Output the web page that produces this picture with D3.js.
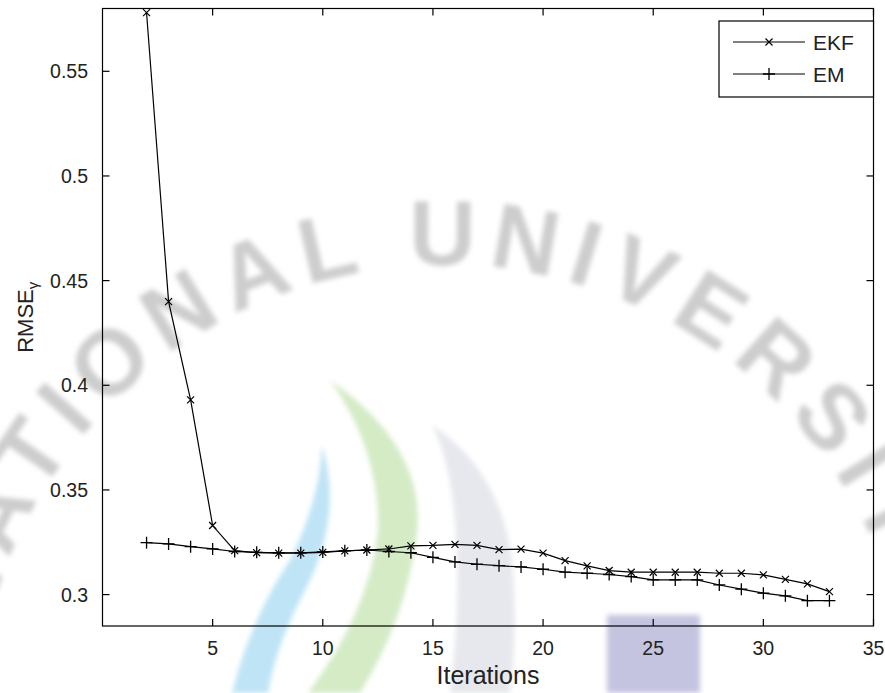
<!DOCTYPE html>
<html>
<head>
<meta charset="utf-8">
<script src="https://cdn.jsdelivr.net/npm/d3@7"></script>
<style>
  body { margin: 0; background: #fff; }
  svg { display: block; }
</style>
</head>
<body>
<svg></svg>
<script>
var width = 885;
var height = 693;

// data
var iterations = [2, 3, 4, 5, 6, 7, 8, 9, 10, 11, 12, 13, 14, 15, 16, 17, 18, 19, 20, 21, 22, 23, 24, 25, 26, 27, 28, 29, 30, 31, 32, 33];
var ekf = [0.578, 0.440, 0.393, 0.333, 0.3210, 0.3200, 0.3198, 0.3198, 0.3202, 0.3209, 0.3213, 0.3218, 0.3233, 0.3235, 0.3240, 0.3235, 0.3215, 0.3217, 0.3198, 0.3162, 0.3137, 0.3115, 0.3107, 0.3107, 0.3107, 0.3107, 0.3102, 0.3102, 0.3094, 0.3073, 0.3051, 0.3014];
var em = [0.3248, 0.3242, 0.3229, 0.3218, 0.3206, 0.3202, 0.3200, 0.3200, 0.3204, 0.3209, 0.3213, 0.3206, 0.3200, 0.3178, 0.3156, 0.3145, 0.3138, 0.3132, 0.3121, 0.3107, 0.3102, 0.3096, 0.3086, 0.3070, 0.3070, 0.3070, 0.3046, 0.3026, 0.3007, 0.2994, 0.2971, 0.2971];
var xTicks = [5, 10, 15, 20, 25, 30, 35];
var yTicks = [0.3, 0.35, 0.4, 0.45, 0.5, 0.55];
var seriesNames = ["EKF", "EM"];

const svg = d3.select('svg')
    .attr('width', width)
    .attr('height', height);

// watermark behind the plot
var defs = svg.append("defs");
defs.append("filter").attr("id", "soft")
    .append("feGaussianBlur").attr("stdDeviation", 2.5);
defs.append("path").attr("id", "arcPath")
    .attr("d", "M -25 735 A 470 470 0 0 1 915 735");

const wm = svg.append("g").attr("filter", "url(#soft)");
wm.append("path")  // blue swoosh
    .attr("d", "M 322 445 Q 345 520 300 600 Q 275 650 268 693 L 232 693 Q 250 620 290 560 Q 320 500 322 445 Z")
    .attr("fill", "#bfe4f6");
wm.append("path")  // green swoosh
    .attr("d", "M 330 380 Q 430 450 416 540 Q 405 620 360 693 L 308 693 Q 370 610 378 530 Q 380 450 330 380 Z")
    .attr("fill", "#d4ebc6");
wm.append("path")  // grey swoosh
    .attr("d", "M 432 425 Q 500 470 512 560 Q 518 630 510 693 L 450 693 Q 462 600 455 520 Q 450 460 432 425 Z")
    .attr("fill", "#e6e8ed");
wm.append("rect")
    .attr("x", 607).attr("y", 615).attr("width", 93).attr("height", 78)
    .attr("fill", "#c4c4e1");
wm.append("text")
    .attr("font-family", "Liberation Sans, Arial, sans-serif")
    .attr("font-weight", "bold")
    .attr("font-size", 92)
    .attr("letter-spacing", 12)
    .attr("fill", "#cdcdcd")
    .append("textPath")
    .attr("href", "#arcPath")
    .attr("startOffset", "50%")
    .attr("text-anchor", "middle")
    .text("NATIONAL UNIVERSITY");

// plot area
var mLeft = 102.5, mRight = 873.5, mTop = 8.5, mBottom = 626;
var x = d3.scaleLinear().domain([0, 35]).range([mLeft, mRight]);
var y = d3.scaleLinear().domain([0.285, 0.58]).range([mBottom, mTop]);

const plot = svg.append("g");
plot.append("rect")
    .attr("x", mLeft).attr("y", mTop)
    .attr("width", mRight - mLeft).attr("height", mBottom - mTop)
    .attr("fill", "none").attr("stroke", "#000").attr("stroke-width", 1.2);

var tickLen = 7;
var fontMain = "Liberation Sans, Arial, sans-serif";

// x ticks, bottom and top, inward
plot.selectAll(".xt").data(xTicks).join("g").attr("class", "xt")
    .each(function(d) {
        var g = d3.select(this);
        g.append("line").attr("x1", x(d)).attr("x2", x(d))
            .attr("y1", mBottom).attr("y2", mBottom - tickLen)
            .attr("stroke", "#000").attr("stroke-width", 1.2);
        g.append("line").attr("x1", x(d)).attr("x2", x(d))
            .attr("y1", mTop).attr("y2", mTop + tickLen)
            .attr("stroke", "#000").attr("stroke-width", 1.2);
        g.append("text").attr("x", x(d)).attr("y", 655)
            .attr("text-anchor", "middle")
            .attr("font-family", fontMain).attr("font-size", 19.5)
            .attr("fill", "#222").text(d);
    });

// y ticks, left and right, inward
plot.selectAll(".yt").data(yTicks).join("g").attr("class", "yt")
    .each(function(d) {
        var g = d3.select(this);
        g.append("line").attr("x1", mLeft).attr("x2", mLeft + tickLen)
            .attr("y1", y(d)).attr("y2", y(d))
            .attr("stroke", "#000").attr("stroke-width", 1.2);
        g.append("line").attr("x1", mRight).attr("x2", mRight - tickLen)
            .attr("y1", y(d)).attr("y2", y(d))
            .attr("stroke", "#000").attr("stroke-width", 1.2);
        g.append("text").attr("x", 88).attr("y", y(d))
            .attr("dy", "0.36em")
            .attr("text-anchor", "end")
            .attr("font-family", fontMain).attr("font-size", 19.5)
            .attr("fill", "#222").text(d);
    });

// axis labels
svg.append("text")
    .attr("x", (mLeft + mRight) / 2).attr("y", 684)
    .attr("text-anchor", "middle")
    .attr("font-family", fontMain).attr("font-size", 25)
    .attr("fill", "#222")
    .text("Iterations");

var yl = svg.append("text")
    .attr("transform", "translate(33," + ((mTop + mBottom) / 2) + ") rotate(-90)")
    .attr("text-anchor", "middle")
    .attr("font-family", fontMain).attr("font-size", 22)
    .attr("fill", "#222");
yl.append("tspan").text("RMSE");
yl.append("tspan").attr("font-size", 15).attr("dy", 5).text("γ");

// series
var line = d3.line()
    .x(d => x(d[0]))
    .y(d => y(d[1]));

var ekfPts = iterations.map((it, i) => [it, ekf[i]]);
var emPts = iterations.map((it, i) => [it, em[i]]);

function crossMark(g, cx, cy) {   // 'x' marker
    var s = 3.5;
    g.append("path")
        .attr("d", `M${cx - s},${cy - s}L${cx + s},${cy + s}M${cx - s},${cy + s}L${cx + s},${cy - s}`)
        .attr("stroke", "#000").attr("stroke-width", 1.2).attr("fill", "none");
}
function plusMark(g, cx, cy) {    // '+' marker
    var s = 6;
    g.append("path")
        .attr("d", `M${cx - s},${cy}L${cx + s},${cy}M${cx},${cy - s}L${cx},${cy + s}`)
        .attr("stroke", "#000").attr("stroke-width", 1.3).attr("fill", "none");
}

const series = svg.append("g");
series.append("path").datum(emPts)
    .attr("d", line).attr("fill", "none")
    .attr("stroke", "#000").attr("stroke-width", 1.2);
series.append("path").datum(ekfPts)
    .attr("d", line).attr("fill", "none")
    .attr("stroke", "#000").attr("stroke-width", 1.2);
emPts.forEach(p => plusMark(series, x(p[0]), y(p[1])));
ekfPts.forEach(p => crossMark(series, x(p[0]), y(p[1])));

// legend
var lg = svg.append("g");
lg.append("rect")
    .attr("x", 719).attr("y", 21).attr("width", mRight - 719).attr("height", 76)
    .attr("fill", "#fff").attr("stroke", "#000").attr("stroke-width", 1.2);
seriesNames.forEach(function(name, i) {
    var ly = 42 + i * 32;
    lg.append("line").attr("x1", 733).attr("x2", 805)
        .attr("y1", ly).attr("y2", ly)
        .attr("stroke", "#000").attr("stroke-width", 1.2);
    if (i === 0) crossMark(lg, 769, ly); else plusMark(lg, 769, ly);
    lg.append("text").attr("x", 813).attr("y", ly).attr("dy", "0.36em")
        .attr("font-family", fontMain).attr("font-size", 21)
        .attr("fill", "#222").text(name);
});
</script>
</body>
</html>
